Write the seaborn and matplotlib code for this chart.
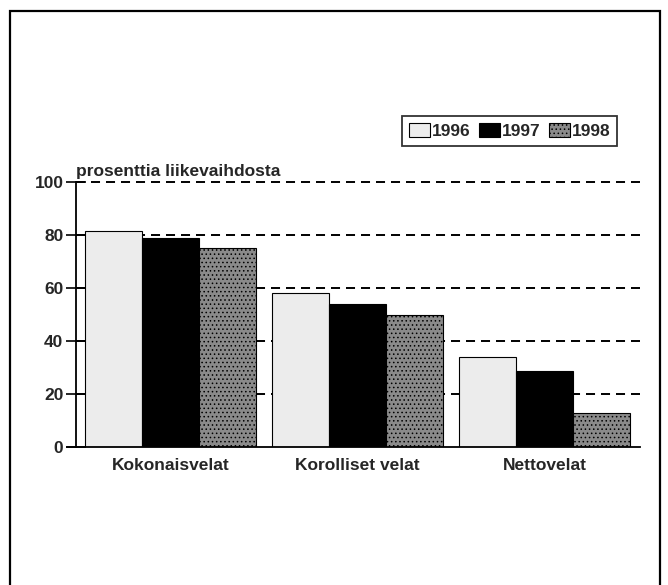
import matplotlib
matplotlib.use("Agg")
import matplotlib.pyplot as plt
import seaborn as sns
import pandas as pd
from matplotlib.patches import Rectangle, Patch

categories = ["Kokonaisvelat", "Korolliset velat", "Nettovelat"]
years = ["1996", "1997", "1998"]
v1996 = [81.5, 58.0, 33.8]
v1997 = [78.7, 54.0, 28.5]
v1998 = [75.0, 49.9, 13.0]
yticks = [0, 20, 40, 60, 80, 100]
ylabel = "prosenttia liikevaihdosta"

sns.set_theme(style="white")
plt.rcParams['font.family'] = ['Liberation Sans', 'DejaVu Sans']
plt.rcParams['lines.scale_dashes'] = False
plt.rcParams['hatch.linewidth'] = 0.6
plt.rcParams['hatch.color'] = '#3a3a3a'

rows = []
for yr, vals in zip(years, [v1996, v1997, v1998]):
    for c, v in zip(categories, vals):
        rows.append({"cat": c, "year": yr, "val": v})
df = pd.DataFrame(rows)

fig = plt.figure(figsize=(6.68, 5.85), dpi=100)
ax = fig.add_axes([76/668, (585-447)/585, (640-76)/668, (447-182)/585])

colors = {"1996": "#ececec", "1997": "#000000", "1998": "#8a8a8a"}
sns.barplot(data=df, x="cat", y="val", hue="year", palette=colors,
            width=0.91, gap=0, edgecolor="black", linewidth=0.8,
            saturation=1, ax=ax, legend=False)

for bar_cont, yr in zip(ax.containers, years):
    for p in bar_cont:
        if yr == "1998":
            p.set_hatch("....")

ax.set_xlim(-0.505, 2.51)
ax.set_ylim(0, 100)
ax.set_yticks(yticks)
ax.set_yticklabels([str(t) for t in yticks], fontsize=12.5, fontweight="bold")
ax.set_xlabel("")
ax.set_ylabel("")
ax.tick_params(axis="y", direction="inout", length=14, width=1.2, color="black", pad=2, left=True)
ax.tick_params(axis="x", length=0, pad=8, labelsize=12.5)
for lbl in ax.get_xticklabels():
    lbl.set_fontweight("bold")

for s in ["top", "right"]:
    ax.spines[s].set_visible(False)
for s in ["left", "bottom"]:
    ax.spines[s].set_color("black")
    ax.spines[s].set_linewidth(1.3)
ax.spines["bottom"].set_bounds(-0.555, 2.51)

ax.set_axisbelow(True)
for t in yticks[1:]:
    ax.axhline(t, color="black", linewidth=1.4, linestyle=(0, (6.5, 4.3)),
               zorder=0, clip_on=False)

fig.text(76/668, 1-176/585, ylabel, fontsize=12.5, fontweight="bold", ha="left", va="baseline")

handles = [Patch(facecolor=colors["1996"], edgecolor="black", linewidth=0.8),
           Patch(facecolor=colors["1997"], edgecolor="black", linewidth=0.8),
           Patch(facecolor=colors["1998"], edgecolor="black", linewidth=0.8, hatch="....")]
leg = fig.legend(handles, years, ncol=3, loc="upper right",
                 bbox_to_anchor=(617/668, 1-116/585), frameon=True, fancybox=False,
                 edgecolor="black", handlelength=1.2, handleheight=0.85,
                 handletextpad=0.1, columnspacing=0.5, borderpad=0.4, borderaxespad=0,
                 prop={"weight": "bold", "size": 12.5})
leg.get_frame().set_linewidth(1.3)

fig.patches.append(Rectangle((10/668, -0.02), 650/668, 1-11/585+0.02,
                             transform=fig.transFigure, fill=False,
                             edgecolor="black", linewidth=1.6))

fig.savefig("out.png", dpi=100, facecolor="white")
